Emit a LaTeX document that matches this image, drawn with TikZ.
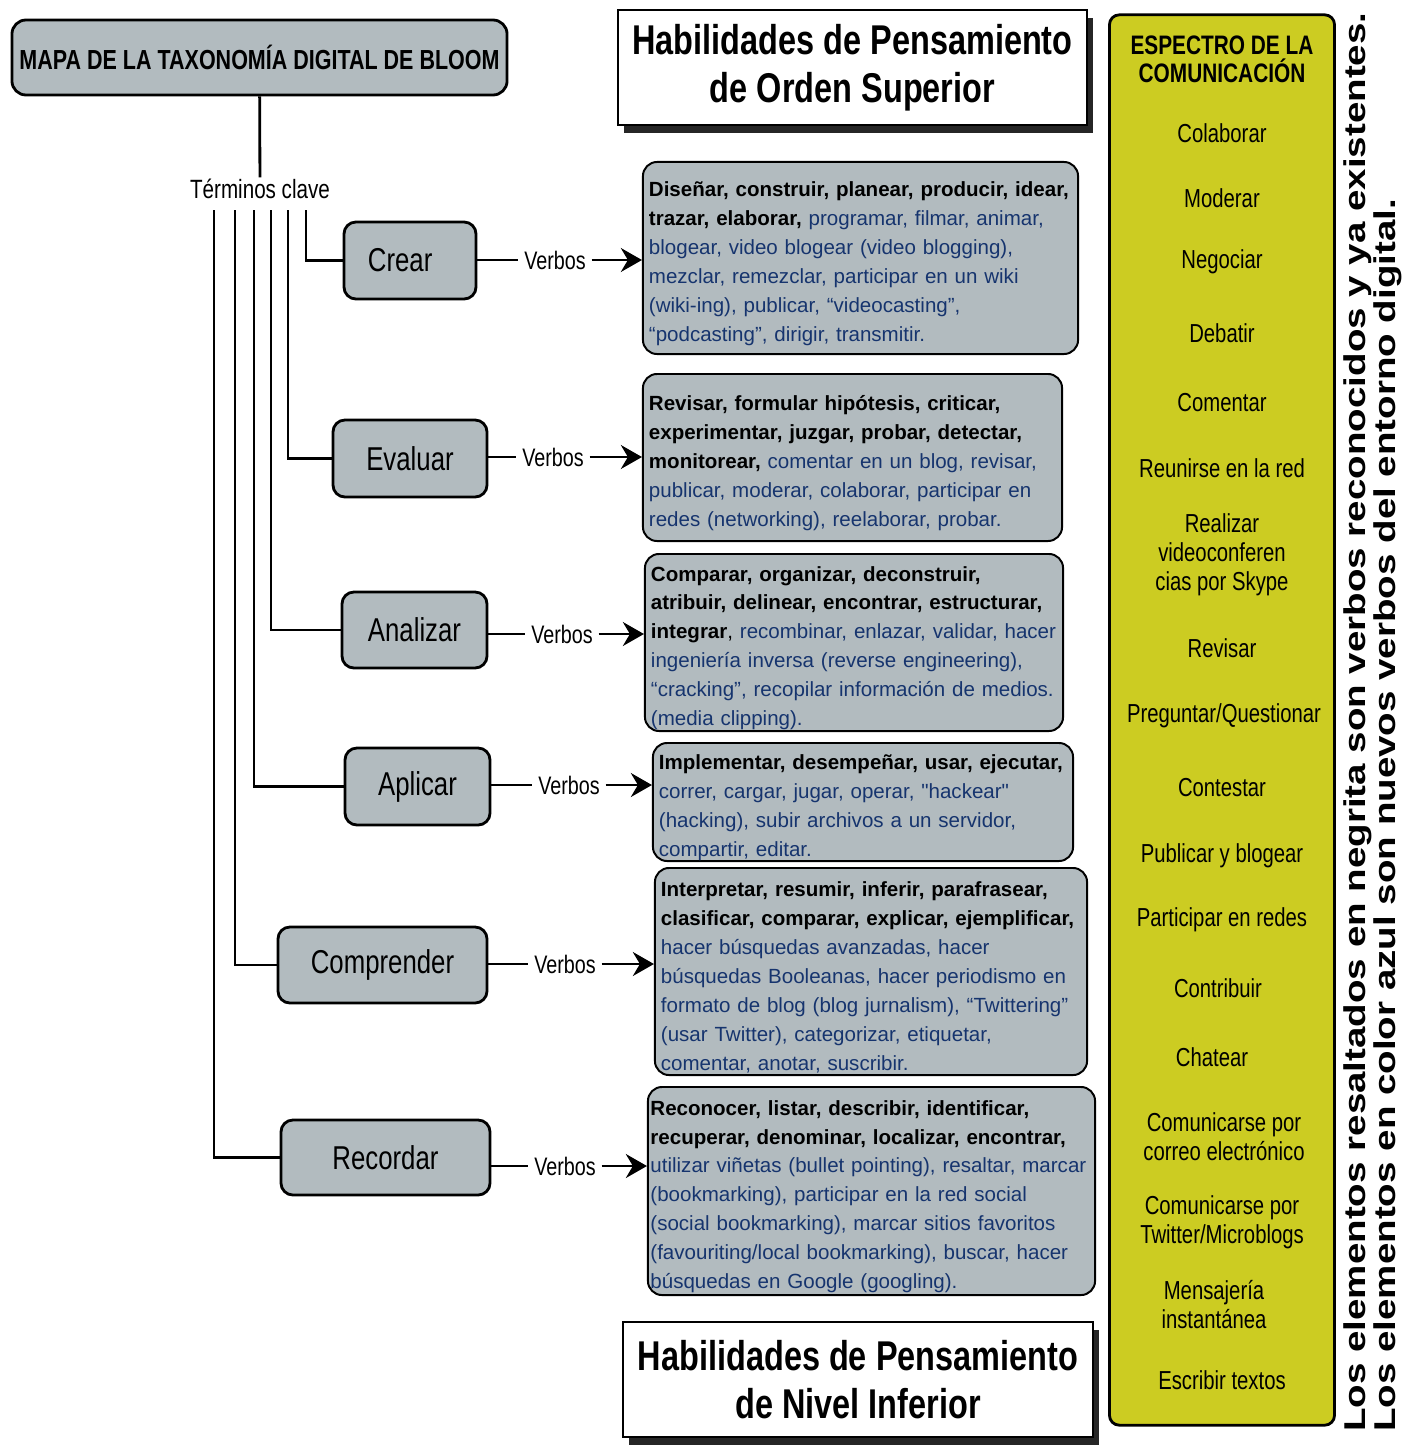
\documentclass[tikz,border=0pt]{standalone}
\usepackage{fontspec}
\setmainfont{Liberation Sans}
\newfontfamily\narrowsf[FakeStretch=0.78]{Liberation Sans}
\newfontfamily\widesf[FakeStretch=1.28]{Liberation Sans}
\usetikzlibrary{arrows.meta,shadows}
\definecolor{boxgray}{RGB}{178,187,191}
\definecolor{azul}{RGB}{22,52,110}
\definecolor{espectro}{RGB}{204,204,34}
\newcommand{\conocido}[1]{\textcolor{black}{\bfseries #1}}
\newcommand{\recto}[1]{{\addfontfeatures{Ligatures=TeXOff}#1}}

\begin{document}
\begin{tikzpicture}[x=0.025cm,y=-0.025cm,
  termbox/.style={draw,line width=2pt,fill=boxgray,rounded corners=8.5pt,inner sep=0pt,font=\narrowsf\fontsize{23.5}{26}\selectfont},
  verbs/.style={draw,line width=1.4pt,fill=boxgray,rounded corners=10pt,align=left,inner xsep=0.15cm,inner ysep=0pt,text=azul,font=\fontsize{14.6}{20.6}\selectfont,
    execute at end node={\endgraf\kern-8pt}},
  verbtag/.style={inner xsep=4pt,inner ysep=1pt,font=\narrowsf\fontsize{18}{20}\selectfont},
  habbox/.style={draw,line width=1.5pt,fill=white,align=center,inner sep=0pt,font=\narrowsf\bfseries\fontsize{29.6}{34}\selectfont,
    drop shadow={shadow xshift=4pt,shadow yshift=-5.5pt,opacity=1,fill=black!85}},
  specitem/.style={align=center,inner sep=0pt,font=\narrowsf\fontsize{18.5}{20.6}\selectfont},
  wire/.style={line width=2pt},
  flecha/.style={line width=2pt,-{Stealth[length=15pt,width=17pt,inset=5pt]}}]

	\useasboundingbox (0,0) rectangle (1404,1447);

	% mapa y terminos clave
	\node[termbox,rounded corners=10pt,minimum width=12.375cm,minimum height=1.875cm,font=\narrowsf\bfseries\fontsize{19.6}{22}\selectfont] (titulo) at (259.5,57.5) {MAPA DE LA TAXONOMÍA DIGITAL DE BLOOM};
	\node[verbtag,font=\narrowsf\fontsize{18.8}{20}\selectfont] (terminos) at (260,189) {Términos clave};
	\draw[wire] (titulo) -- (terminos);

	\node[termbox,minimum width=3.3cm,minimum height=1.925cm] (crear) at (410,260.5) {Crear\kern14pt};
	\node[termbox,minimum width=3.85cm,minimum height=1.925cm] (evaluar) at (410,458.5) {Evaluar};
	\node[termbox,minimum width=3.625cm,minimum height=1.9cm] (analizar) at (414.5,630) {Analizar};
	\node[termbox,minimum width=3.625cm,minimum height=1.925cm] (aplicar) at (417.5,786.5) {Aplicar};
	\node[termbox,minimum width=5.225cm,minimum height=1.9cm] (comprender) at (382.5,965) {Comprender};
	\node[termbox,minimum width=5.225cm,minimum height=1.875cm] (recordar) at (385.5,1157.5) {Recordar};

	\coordinate (r1) at (306,210);
	\coordinate (r2) at (288,210);
	\coordinate (r3) at (271,210);
	\coordinate (r4) at (254,210);
	\coordinate (r5) at (235,210);
	\coordinate (r6) at (214,210);
	\draw[wire] (r1) |- (crear.west);
	\draw[wire] (r2) |- (evaluar.west);
	\draw[wire] (r3) |- (analizar.west);
	\draw[wire] (r4) |- (aplicar.west);
	\draw[wire] (r5) |- (comprender.west);
	\draw[wire] (r6) |- (recordar.west);

	% verbos
	\node[verbs,text width=10.575cm,minimum height=4.8cm] (v1) at (860.5,258) {\conocido{Diseñar, construir, planear, producir, idear,}\\
		\conocido{trazar, elaborar,} programar, filmar, animar,\\
		blogear, video blogear (video blogging),\\
		mezclar, remezclar, participar en un wiki\\
		(wiki-ing), publicar, “videocasting”,\\
		“podcasting”, dirigir, transmitir.};
	\node[verbs,text width=10.175cm,minimum height=4.175cm] (v2) at (852.5,457.5) {\conocido{Revisar, formular hipótesis, criticar,}\\
		\conocido{experimentar, juzgar, probar, detectar,}\\
		\conocido{monitorear,} comentar en un blog, revisar,\\
		publicar, moderar, colaborar, participar en\\
		redes (networking), reelaborar, probar.};
	\node[verbs,text width=10.15cm,minimum height=4.425cm] (v3) at (854,642.5) {\conocido{Comparar, organizar, deconstruir,}\\
		\conocido{atribuir, delinear, encontrar, estructurar,}\\
		\conocido{integrar}\textcolor{black}{,} recombinar, enlazar, validar, hacer\\
		ingeniería inversa (reverse engineering),\\
		“cracking”, recopilar información de medios.\\
		(media clipping).};
	\node[verbs,text width=10.2cm,minimum height=2.95cm] (v4) at (863,802) {\conocido{Implementar, desempeñar, usar, ejecutar,}\\
		correr, cargar, jugar, operar, \recto{"hackear"}\\
		(hacking), subir archivos a un servidor,\\
		compartir, editar.};
	\node[verbs,text width=10.5cm,minimum height=5.175cm] (v5) at (871,971.5) {\conocido{Interpretar, resumir, inferir, parafrasear,}\\
		\conocido{clasificar, comparar, explicar, ejemplificar,}\\
		hacer búsquedas avanzadas, hacer\\
		búsquedas Booleanas, hacer periodismo en\\
		formato de blog (blog jurnalism), “Twittering”\\
		(usar Twitter), categorizar, etiquetar,\\
		comentar, anotar, suscribir.};
	\node[verbs,text width=11.05cm,inner xsep=0.0625cm,minimum height=5.2cm] (v6) at (871.5,1191) {\conocido{Reconocer, listar, describir, identificar,}\\
		\conocido{recuperar, denominar, localizar, encontrar,}\\
		\mbox{utilizar viñetas (bullet pointing), resaltar, marcar}\\
		(bookmarking), participar en la red social\\
		(social bookmarking), marcar sitios favoritos\\
		(favouriting/local bookmarking), buscar, hacer\\
		búsquedas en Google (googling).};

	\node[verbtag] (vb1) at (555,260) {Verbos};
	\node[verbtag] (vb2) at (553,457) {Verbos};
	\node[verbtag] (vb3) at (562,634) {Verbos};
	\node[verbtag] (vb4) at (569,785) {Verbos};
	\node[verbtag] (vb5) at (565,964) {Verbos};
	\node[verbtag] (vb6) at (565,1166) {Verbos};
	\draw[wire] (vb1.west -| crear.east) -- (vb1);
	\draw[flecha] (vb1) -- (vb1 -| v1.west);
	\draw[wire] (vb2.west -| evaluar.east) -- (vb2);
	\draw[flecha] (vb2) -- (vb2 -| v2.west);
	\draw[wire] (vb3.west -| analizar.east) -- (vb3);
	\draw[flecha] (vb3) -- (vb3 -| v3.west);
	\draw[wire] (vb4.west -| aplicar.east) -- (vb4);
	\draw[flecha] (vb4) -- (vb4 -| v4.west);
	\draw[wire] (vb5.west -| comprender.east) -- (vb5);
	\draw[flecha] (vb5) -- (vb5 -| v5.west);
	\draw[wire] (vb6.west -| recordar.east) -- (vb6);
	\draw[flecha] (vb6) -- (vb6 -| v6.west);

	% habilidades
	\node[habbox,minimum width=11.725cm,minimum height=2.875cm] (superior) at (852.5,67.5) {Habilidades de Pensamiento\\de Orden Superior};
	\node[habbox,minimum width=11.75cm,minimum height=2.875cm] (inferior) at (858,1379.5) {Habilidades de Pensamiento\\de Nivel Inferior};

	% espectro de la comunicacion
	\node[draw,line width=2pt,fill=espectro,rounded corners=7pt,minimum width=5.625cm,minimum height=35.25cm] (espectro) at (1222,720) {};
	\node[specitem,font=\narrowsf\bfseries\fontsize{19}{20}\selectfont] (esptit) at (1222,59) {ESPECTRO DE LA\\COMUNICACIÓN};
	\node[specitem] (e1) at (1222,133) {Colaborar};
	\node[specitem] (e2) at (1222,198) {Moderar};
	\node[specitem] (e3) at (1222,262) {Negociar};
	\node[specitem] (e4) at (1222,333) {Debatir};
	\node[specitem] (e5) at (1222,403) {Comentar};
	\node[specitem] (e6) at (1222,468) {Reunirse en la red};
	\node[specitem] (e7) at (1222,555) {Realizar\\videoconferen\\cias por Skype};
	\node[specitem] (e8) at (1222,648) {Revisar};
	\node[specitem] (e9) at (1224,716) {Preguntar/Questionar};
	\node[specitem] (e10) at (1222,788) {Contestar};
	\node[specitem] (e11) at (1222,856) {Publicar y blogear};
	\node[specitem] (e12) at (1222,920) {Participar en redes};
	\node[specitem] (e13) at (1218,988) {Contribuir};
	\node[specitem] (e14) at (1212,1057) {Chatear};
	\node[specitem] (e15) at (1224,1136.5) {Comunicarse por\\correo electrónico};
	\node[specitem] (e16) at (1222,1222.5) {Comunicarse por\\Twitter/Microblogs};
	\node[specitem] (e17) at (1214,1304.5) {Mensajería\\instantánea};
	\node[specitem] (e18) at (1222,1380) {Escribir textos};

	% nota al margen
	\node[rotate=90,anchor=south west,align=left,inner sep=0pt,font=\widesf\bfseries\fontsize{21.4}{20}\selectfont] (nota) at (1402,1432) {Los elementos resaltados en negrita son verbos reconocidos y ya existentes.\\Los elementos en color azul son nuevos verbos del entorno digital.};

\end{tikzpicture}
\end{document}
